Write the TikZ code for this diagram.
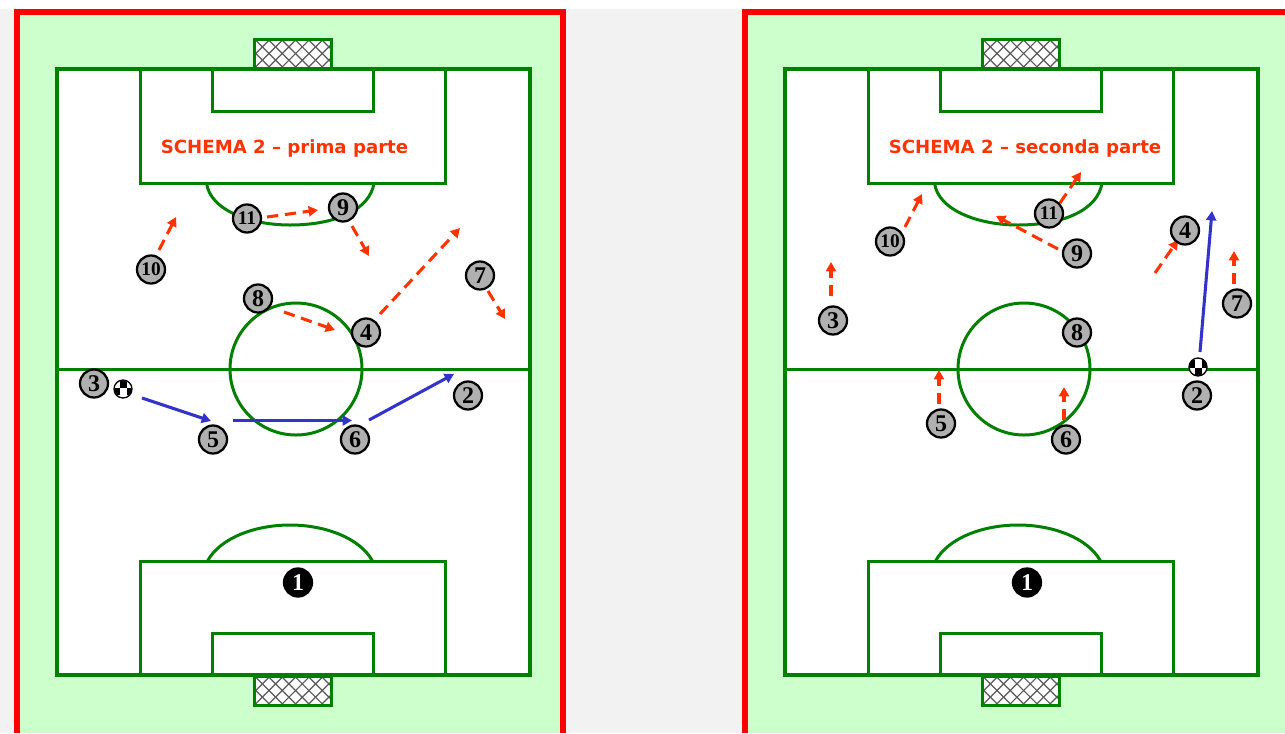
\documentclass[tikz,border=0pt]{standalone}
\usepackage{fontspec}
\setmainfont{Liberation Serif}
\newfontfamily\titlefont{DejaVu Sans}
\usetikzlibrary{arrows.meta}
\definecolor{pitchgreen}{HTML}{008000}
\definecolor{grass}{HTML}{CCFFCC}
\definecolor{page}{HTML}{F2F2F2}
\definecolor{runred}{HTML}{FF3300}
\definecolor{passblue}{HTML}{3333CC}
\definecolor{shirt}{HTML}{B0B0B0}
\tikzset{
  x=0.75pt,y=-0.75pt,
  outerline/.style={draw=pitchgreen,line width=3.3pt},
  fieldline/.style={draw=pitchgreen,line width=2.25pt},
  netbox/.style={draw=pitchgreen,line width=2.25pt},
  player/.style={circle,draw=black,fill=shirt,line width=1.7pt,minimum size=21pt,inner sep=0pt,font=\bfseries\fontsize{18}{18}\selectfont},
  smallnum/.style={font=\bfseries\fontsize{14.5}{14.5}\selectfont},
  keeper/.style={circle,draw=black,fill=black,text=white,line width=1.7pt,minimum size=21pt,inner sep=0pt,font=\bfseries\fontsize{18}{18}\selectfont},
  run/.style={draw=runred,line width=2.3pt,dash pattern=on 8.5pt off 5pt,-{Triangle[length=7pt,width=7.5pt,fill=runred]}},
  pass/.style={draw=passblue,line width=2.3pt,-{Triangle[length=7pt,width=7.5pt,fill=passblue]}},
  heading/.style={text=runred,font=\titlefont\bfseries\fontsize{13.6}{13.6}\selectfont,inner sep=0pt},
  ballring/.style={circle,draw=black,fill=white,line width=1pt,minimum size=13.5pt,inner sep=0pt},
}
\newcommand{\netat}[2]{% x0, y0 of 77x29 net
  \fill[white] (#1,#2) rectangle ++(77,29);
  \begin{scope}
    \clip (#1,#2) rectangle ++(77,29);
    \foreach \k in {-4,...,8} {
      \draw[black!65,line width=.9pt] ({#1+\k*13.3},#2) -- ++(29,29);
      \draw[black!65,line width=.9pt] ({#1+\k*13.3+29},#2) -- ++(-29,29);
    }
  \end{scope}
  \draw[netbox] (#1,#2) rectangle ++(77,29);
}
\newcommand{\pitchat}[1]{%
  \begin{scope}[shift={(#1,0)}]
    \fill[white] (57,69) rectangle (530,675);
    \netat{254.5}{39}
    \netat{254.5}{676}
    \draw[fieldline] (140,69) rectangle (445.5,183);
    \draw[fieldline] (212,69) rectangle (373.5,111);
    \draw[fieldline] (206.5,183) .. controls (210,210) and (250,225) .. (290,225) .. controls (335,225) and (370,210) .. (374,183);
    \draw[fieldline] (140,561) rectangle (445.5,675);
    \draw[fieldline] (212,633) rectangle (373.5,675);
    \draw[fieldline] (207.5,561) .. controls (220,538) and (255,525) .. (290,525) .. controls (325,525) and (360,538) .. (372.5,561);
    \draw[fieldline] (57,369) -- (530,369);
    \draw[fieldline] (296,369) circle [radius=66];
    \draw[outerline] (57,69) rectangle (530,675);
  \end{scope}
}
\newcommand{\ballup}[3]{% name, x, y : black square on top
  \node[ballring] (#1) at (#2,#3) {};
  \begin{scope}
    \clip (#2,#3) circle [radius=8.5];
    \fill (#2-3.5,#3-8) rectangle (#2+3.5,#3-1);
    \fill (#2-10,#3-1) rectangle (#2-3.5,#3+6);
    \fill (#2+3.5,#3-1) rectangle (#2+10,#3+6);
  \end{scope}
}
\newcommand{\balldown}[3]{% name, x, y : black square below
  \node[ballring] (#1) at (#2,#3) {};
  \begin{scope}
    \clip (#2,#3) circle [radius=8.5];
    \fill (#2-3.5,#3+1) rectangle (#2+3.5,#3+9);
    \fill (#2-10,#3-7) rectangle (#2-3.5,#3+1);
    \fill (#2+3.5,#3-7) rectangle (#2+10,#3+1);
  \end{scope}
}
\begin{document}
\begin{tikzpicture}
\useasboundingbox (0,0) rectangle (1285,733);
\fill[white] (0,0) rectangle (1285,733);
\fill[page] (0,9) rectangle (1285,733);
% panels
\fill[grass] (14,9) rectangle (566,733);
\fill[grass] (742,9) rectangle (1285,733);
\fill[red] (14,9) rectangle (20,733);
\fill[red] (14,9) rectangle (566,15);
\fill[red] (560,9) rectangle (566,733);
\fill[red] (742,9) rectangle (748,733);
\fill[red] (742,9) rectangle (1285,15);
\pitchat{0}
\pitchat{728}
\node[heading] (titleA) at (284.5,148) {SCHEMA 2 – prima parte};
\node[heading] (titleB) at (1025,148) {SCHEMA 2 – seconda parte};
% free ends
\foreach \n/\x/\y in {
 a/159/250, b/176/217, c/267/217, d/318/210, e/352/226, f/369/256, g/284/312, h/335/330,
 i/380/314, j/460/228, k/488/291, l/505/319, m/142/398, n/211/421, o/233/420.5, p/352/420.5,
 q/369/420, r/454/374,
 A/905/227, B/922/194, C/831/296, D/831/262, E/1060/203, F/1081/172, G/1058/249, H/996/216,
 I/1155/273, J/1178/240, K/1234/284, L/1234/251, M/939/404, N/939/370, O/1064/420, P/1064/387,
 Q/1200/352, R/1212/211}
  {\coordinate (e\n) at (\x,\y);}
\draw[run] (ea) -- (eb);
\draw[run] (ec) -- (ed);
\draw[run] (ee) -- (ef);
\draw[run] (eg) -- (eh);
\draw[run] (ei) -- (ej);
\draw[run] (ek) -- (el);
\draw[pass] (em) -- (en);
\draw[pass] (eo) -- (ep);
\draw[pass] (eq) -- (er);
\draw[run] (eA) -- (eB);
\draw[run] (eC) -- (eD);
\draw[run] (eE) -- (eF);
\draw[run] (eG) -- (eH);
\draw[run] (eI) -- (eJ);
\draw[run] (eK) -- (eL);
\draw[run] (eM) -- (eN);
\draw[run] (eO) -- (eP);
\draw[pass] (eQ) -- (eR);
% players
\node[keeper] (a1) at (298,582.5) {1};
\foreach \n/\x/\y in {2/468/395.5,3/94/383.5,4/366/332.5,5/213/439.5,6/355/439.5,7/480/275.5,8/258/298.5,9/343/207.5}
  {\node[player] (a\n) at (\x,\y) {\n};}
\node[player,smallnum] (a10) at (151,269.5) {10};
\node[player,smallnum] (a11) at (247,218.5) {11};
\node[keeper] (b1) at (1027,582.5) {1};
\foreach \n/\x/\y in {2/1197/395.5,3/833/320.5,4/1185/230.5,5/941/423.5,6/1066/439.5,7/1237/303.5,8/1077/332.5,9/1077/253.5}
  {\node[player] (b\n) at (\x,\y) {\n};}
\node[player,smallnum] (b10) at (890,241.5) {10};
\node[player,smallnum] (b11) at (1049,213.5) {11};
\ballup{ballA}{123}{389}
\balldown{ballB}{1198}{367}
\end{tikzpicture}
\end{document}
